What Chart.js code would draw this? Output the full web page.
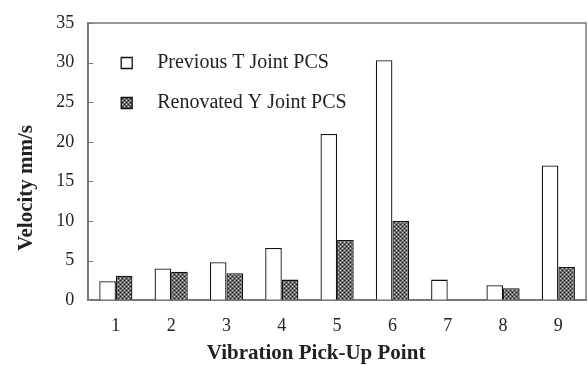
<script src="https://cdn.jsdelivr.net/npm/chart.js@4.4.1/dist/chart.umd.min.js"></script>
<style>body{margin:0;background:#fff}</style>
<canvas id="velChart" width="588" height="365"></canvas>
<script>
var points = ["1", "2", "3", "4", "5", "6", "7", "8", "9"];
var previousT = [2.4, 4.0, 4.8, 6.6, 21.0, 30.3, 2.6, 1.9, 17.0];
var renovatedY = [3.1, 3.6, 3.4, 2.6, 7.6, 10.0, 0, 1.5, 4.2];
var yTicks = [0, 5, 10, 15, 20, 25, 30, 35];

// hatch pattern for the renovated bars
function makeHatch() {
  var c = document.createElement('canvas');
  c.width = 4; c.height = 4;
  var g = c.getContext('2d');
  g.fillStyle = '#6a6a6a';
  g.fillRect(0, 0, 4, 4);
  g.fillStyle = '#1e1e1e';
  g.fillRect(0, 0, 1, 1);
  g.fillRect(2, 2, 1, 1);
  g.fillStyle = '#d4d4d4';
  g.fillRect(2, 0, 1, 1);
  g.fillRect(0, 2, 1, 1);
  return g.createPattern(c, 'repeat');
}

// grey frame round the plot area + short inward ticks on the y axis
var framePlugin = {
  id: 'frame',
  afterLayout: function(chart) {
    // move the legend a bit into the plot area
    var lg = chart.legend, a = chart.chartArea;
    var w = lg.width, h = lg.height;
    lg.left = a.left + 13;
    lg.top = a.top + 10;
    lg.right = lg.left + w;
    lg.bottom = lg.top + h;
  },
  afterDraw: function(chart) {
    var a = chart.chartArea, ctx = chart.ctx, y = chart.scales.y;
    ctx.save();
    ctx.strokeStyle = '#777';
    ctx.lineWidth = 1.5;
    ctx.strokeRect(a.left, a.top, a.right - a.left, a.bottom - a.top);
    ctx.lineWidth = 1;
    yTicks.forEach(function(v) {
      var py = Math.round(y.getPixelForValue(v)) + 0.5;
      ctx.beginPath();
      ctx.moveTo(a.left, py);
      ctx.lineTo(a.left + 5, py);
      ctx.stroke();
    });
    ctx.restore();
  }
};

var serif = "'Liberation Serif', 'Times New Roman', serif";
Chart.defaults.font.family = serif;
Chart.defaults.color = '#222';

new Chart(document.getElementById('velChart').getContext('2d'), {
  type: 'bar',
  data: {
    labels: points,
    datasets: [{
      label: 'Previous T Joint PCS',
      data: previousT,
      backgroundColor: '#fff',
      borderColor: '#111',
      borderWidth: 1.3
    }, {
      label: 'Renovated Y Joint PCS',
      data: renovatedY,
      backgroundColor: makeHatch(),
      borderColor: '#111',
      borderWidth: 1.3
    }]
  },
  options: {
    responsive: false,
    animation: false,
    layout: { padding: { top: 12, right: 2, left: 0, bottom: 1 } },
    datasets: { bar: { barPercentage: 1.0, categoryPercentage: 0.6 } },
    plugins: {
      tooltip: { enabled: false },
      legend: {
        position: 'chartArea',
        align: 'start',
        labels: {
          font: { size: 20 },
          boxWidth: 11,
          boxHeight: 11,
          padding: 20,
          color: '#222',
          generateLabels: function(chart) {
            var items = Chart.defaults.plugins.legend.labels.generateLabels(chart);
            items.forEach(function(it) { it.text = '   ' + it.text; });
            return items;
          }
        }
      }
    },
    scales: {
      x: {
        grid: { display: false, drawTicks: false },
        border: { color: '#777', width: 1.5 },
        ticks: { font: { size: 18 }, padding: 15 },
        // trailing spaces push the title left of centre, as in the original
        title: { display: true, text: 'Vibration Pick-Up Point        ', font: { size: 21, weight: 'bold' }, padding: { top: -11, bottom: -2 } }
      },
      y: {
        min: 0,
        max: 35,
        afterBuildTicks: function(axis) {
          axis.ticks = yTicks.map(function(v) { return { value: v }; });
        },
        grid: { display: false, drawTicks: false },
        border: { color: '#777', width: 1.5 },
        ticks: { font: { size: 18, lineHeight: 1 }, padding: 14 },
        title: { display: true, text: 'Velocity mm/s          ', font: { size: 21, weight: 'bold' }, padding: { top: 14, bottom: 3 } }
      }
    }
  },
  plugins: [framePlugin]
});
</script>
